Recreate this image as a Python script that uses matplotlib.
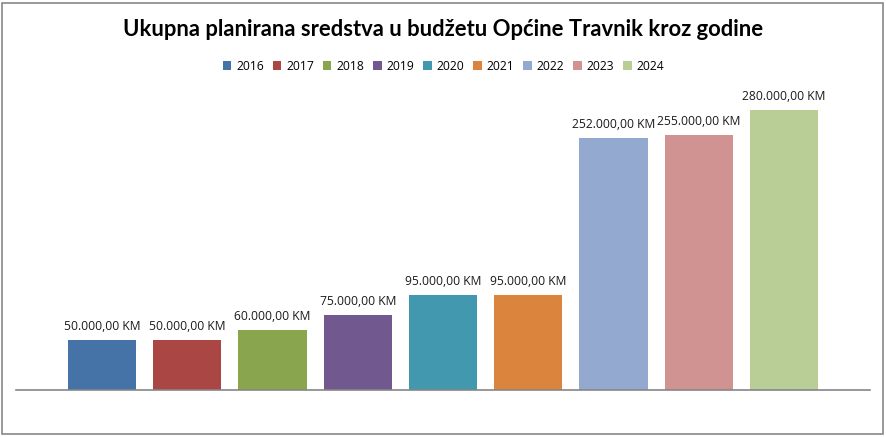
import matplotlib

matplotlib.use("Agg")
import matplotlib.pyplot as plt
from matplotlib.patches import Rectangle

years = ["2016", "2017", "2018", "2019", "2020", "2021", "2022", "2023", "2024"]
budget = [50000, 50000, 60000, 75000, 95000, 95000, 252000, 255000, 280000]
colors = ["#4572A7", "#AA4643", "#89A54E", "#71588F", "#4198AF",
          "#DB843D", "#93A9CF", "#D19392", "#B9CD96"]
title = "Ukupna planirana sredstva u budžetu Općine Travnik kroz godine"


def fmt_km(v):
    s = f"{v:,.2f}"
    s = s.replace(",", "X").replace(".", ",").replace("X", ".")
    return s + " KM"


W, H = 887, 437
fig = plt.figure(figsize=(W / 100, H / 100), dpi=100)
ax = fig.add_axes([16 / W, 47 / H, 854 / W, 300 / H])

for i, (yr, v, c) in enumerate(zip(years, budget, colors)):
    ax.bar(i, v, width=0.8, color=c, label=yr)
    ax.annotate(fmt_km(v), (i, v), xytext=(0, 5), textcoords="offset points",
                ha="center", va="bottom", fontsize=8.7, family="Open Sans",
                color="#1a1a1a")

ax.set_xlim(-1.01, 9.01)
ax.set_ylim(0, 300000)
ax.set_xticks([])
ax.set_yticks([])
for side in ["top", "right", "left"]:
    ax.spines[side].set_visible(False)
ax.spines["bottom"].set_color("#868686")
ax.spines["bottom"].set_linewidth(1.2)

fig.text(0.5, 1 - 30 / H, title, ha="center", va="center", fontsize=15.8,
         fontweight="bold", family="Lato")

fig.legend(loc="center", bbox_to_anchor=(0.5, 1 - 66 / H), ncol=9, frameon=False,
           handlelength=0.7, handleheight=0.7, handletextpad=0.4, columnspacing=0.75,
           prop={"family": "Open Sans", "size": 8.7})

fig.patches.append(Rectangle((2 / W, 3 / H), 881 / W, 431 / H, transform=fig.transFigure,
                             fill=False, edgecolor="#888888", linewidth=1.2))

fig.savefig("out.png", dpi=100)
